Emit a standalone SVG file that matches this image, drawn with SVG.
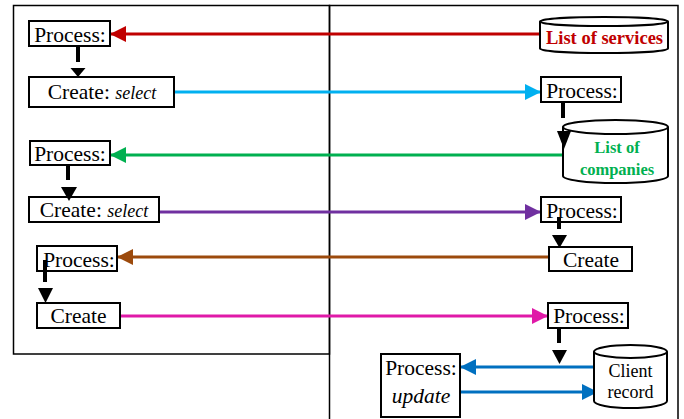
<svg xmlns="http://www.w3.org/2000/svg" width="684" height="419" viewBox="0 0 684 419">
<style>
.frame{fill:none;stroke:#000;stroke-width:1.5}
.box{fill:#fff;stroke:#000;stroke-width:2}
.cyl{fill:#fff;stroke:#000;stroke-width:2}
text{font-family:'Liberation Serif','Times New Roman',Times,'DejaVu Serif',serif}
.t{font-size:21.5px;fill:#000;text-anchor:middle}
.sm{font-size:18px;font-style:italic}
.it{font-style:italic}
.cb{font-weight:bold;text-anchor:middle}
.ct{font-size:18px;text-anchor:middle;fill:#000}
.flow{fill:none;stroke-width:3}
.down{stroke:#000;stroke-width:4;fill:none}
.tri{fill:#000}
</style>
<defs>
<marker id="mRed" markerUnits="userSpaceOnUse" markerWidth="16" markerHeight="16" refX="16" refY="8" orient="auto"><path d="M0,0L16,8L0,16z" fill="#C00000"/></marker>
<marker id="mLb" markerUnits="userSpaceOnUse" markerWidth="16" markerHeight="16" refX="16" refY="8" orient="auto"><path d="M0,0L16,8L0,16z" fill="#00B0F0"/></marker>
<marker id="mGr" markerUnits="userSpaceOnUse" markerWidth="16" markerHeight="16" refX="16" refY="8" orient="auto"><path d="M0,0L16,8L0,16z" fill="#00B050"/></marker>
<marker id="mPu" markerUnits="userSpaceOnUse" markerWidth="16" markerHeight="16" refX="16" refY="8" orient="auto"><path d="M0,0L16,8L0,16z" fill="#7030A0"/></marker>
<marker id="mBr" markerUnits="userSpaceOnUse" markerWidth="16" markerHeight="16" refX="16" refY="8" orient="auto"><path d="M0,0L16,8L0,16z" fill="#9C4A0C"/></marker>
<marker id="mPk" markerUnits="userSpaceOnUse" markerWidth="16" markerHeight="16" refX="16" refY="8" orient="auto"><path d="M0,0L16,8L0,16z" fill="#E01AA8"/></marker>
<marker id="mBl" markerUnits="userSpaceOnUse" markerWidth="16" markerHeight="16" refX="16" refY="8" orient="auto"><path d="M0,0L16,8L0,16z" fill="#0070C0"/></marker>
</defs>

<g id="frames">
<rect class="frame" x="13.5" y="5.5" width="316" height="348.5"/>
<polyline class="frame" points="329.5,419 329.5,5.5 678,5.5 678,419"/>
</g>

<g id="connectors">
<line class="flow" stroke="#C00000" x1="541" y1="34" x2="110" y2="34" marker-end="url(#mRed)"/>
<line class="flow" stroke="#00B0F0" x1="174" y1="92" x2="541" y2="92" marker-end="url(#mLb)"/>
<line class="flow" stroke="#00B050" x1="563" y1="155" x2="110" y2="155" marker-end="url(#mGr)"/>
<line class="flow" stroke="#7030A0" x1="159" y1="212" x2="541" y2="212" marker-end="url(#mPu)"/>
<line class="flow" stroke="#9C4A0C" x1="549" y1="257" x2="117" y2="257" marker-end="url(#mBr)"/>
<line class="flow" stroke="#E01AA8" x1="120" y1="316" x2="548" y2="316" marker-end="url(#mPk)"/>
<line class="flow" stroke="#0070C0" x1="594" y1="367" x2="460" y2="367" marker-end="url(#mBl)"/>
<line class="flow" stroke="#0070C0" x1="460" y1="392" x2="598" y2="392" marker-end="url(#mBl)"/>
</g>

<g id="n-services">
<path class="cyl" d="M540,21.5 L540,48.5 A64,4.5 0 0 0 668,48.5 L668,21.5"/>
<ellipse class="cyl" cx="604" cy="21.5" rx="64" ry="4.5"/>
<text class="cb" x="604.5" y="44" font-size="18.5" fill="#C00000">List of services</text>
</g>

<g id="n-companies">
<path class="cyl" d="M563,127 L563,176 A52.5,7 0 0 0 668,176 L668,127"/>
<ellipse class="cyl" cx="615.5" cy="127" rx="52.5" ry="7"/>
<text class="cb" x="617" y="153" font-size="16.5" fill="#00B050">List of</text>
<text class="cb" x="617" y="175" font-size="16.5" fill="#00B050">companies</text>
</g>

<g id="n-client">
<path class="cyl" d="M594,351.5 L594,401 A36.5,7 0 0 0 667,401 L667,351.5"/>
<ellipse class="cyl" cx="630.5" cy="351.5" rx="36.5" ry="6.5"/>
<text class="ct" x="630.5" y="377">Client</text>
<text class="ct" x="630.5" y="398">record</text>
</g>

<g id="n-p1"><rect class="box" x="29" y="21" width="81" height="25"/><text class="t" x="70" y="42">Process:</text></g>
<g id="n-c1"><rect class="box" x="29" y="77" width="145" height="30"/><text class="t" x="102" y="99" font-size="20.5">Create: <tspan class="sm">select</tspan></text></g>
<g id="n-p2"><rect class="box" x="541" y="77" width="80" height="25"/><text class="t" x="582" y="98">Process:</text></g>
<g id="n-p3"><rect class="box" x="30" y="141" width="80" height="24"/><text class="t" x="70" y="161">Process:</text></g>
<g id="n-c2"><rect class="box" x="29" y="197" width="130" height="25"/><text class="t" x="94" y="217" font-size="20.5">Create: <tspan class="sm">select</tspan></text></g>
<g id="n-p4"><rect class="box" x="541" y="197" width="80" height="25"/><text class="t" x="582" y="218">Process:</text></g>
<g id="n-p5"><rect class="box" x="37" y="246" width="80" height="25"/><text class="t" x="79" y="267">Process:</text></g>
<g id="n-c4"><rect class="box" x="549" y="247" width="83" height="24"/><text class="t" x="591" y="267">Create</text></g>
<g id="n-c3"><rect class="box" x="37" y="303" width="83" height="25"/><text class="t" x="78.5" y="323">Create</text></g>
<g id="n-p6"><rect class="box" x="548" y="303" width="80" height="25"/><text class="t" x="589" y="323">Process:</text></g>
<g id="n-pu"><rect class="box" x="381" y="354" width="79" height="63"/><text class="t" x="421" y="375">Process:</text><text class="t it" x="421" y="403">update</text></g>

<g id="down-arrows">
<line class="down" x1="78" y1="46" x2="78" y2="62"/><polygon class="tri" points="70.5,68 85.5,68 78,77"/>
<line class="down" x1="563" y1="102" x2="563" y2="118"/><polygon class="tri" points="557,131 571,131 564,149"/>
<line class="down" x1="68" y1="165" x2="68" y2="180"/><polygon class="tri" points="61,187 77,187 69,201"/>
<line class="down" x1="559" y1="217" x2="559" y2="229"/><polygon class="tri" points="552,235 567,235 559.5,248"/>
<line class="down" x1="45" y1="260" x2="45" y2="282"/><polygon class="tri" points="38,288 53,288 45.5,303"/>
<line class="down" x1="559" y1="328" x2="559" y2="343"/><polygon class="tri" points="552,350 567,350 559.5,364"/>
</g>
</svg>
